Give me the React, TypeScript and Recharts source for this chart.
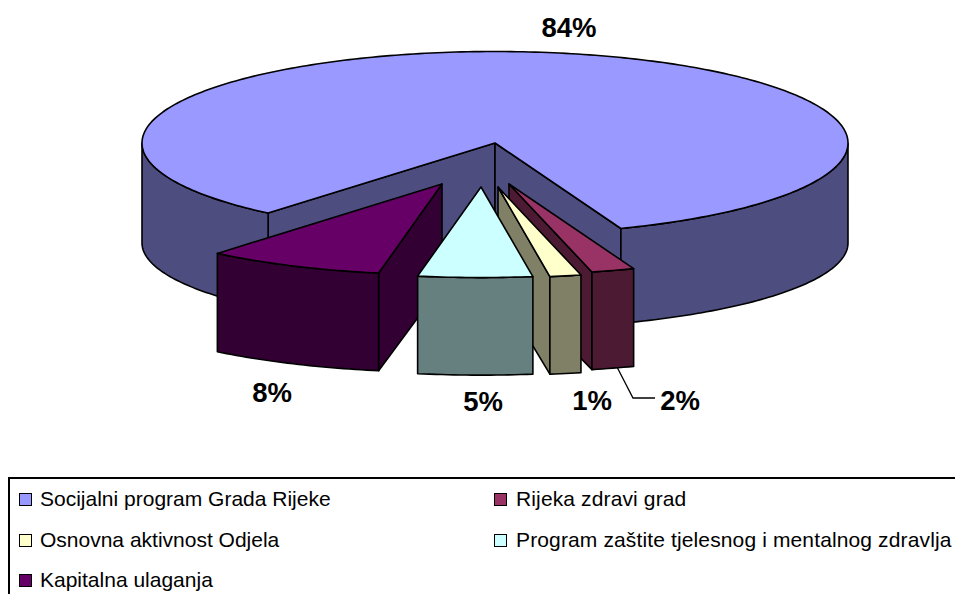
import React from "react";
import { PieChart, Pie, Legend } from "recharts";

const sliceNames = [
  "Socijalni program Grada Rijeke",
  "Rijeka zdravi grad",
  "Osnovna aktivnost Odjela",
  "Program zaštite tjelesnog i mentalnog zdravlja",
  "Kapitalna ulaganja",
];
// Shares
const sliceValues = [83.5, 2.0, 1.45, 5.3, 8.25];
const percentLabels = ["84%", "2%", "1%", "5%", "8%"];

const topColors = ["#9999FF", "#993366", "#FFFFCC", "#CCFFFF", "#660066"];
const sideColors = ["#4D4D80", "#4D1A33", "#808066", "#668080", "#330033"];

// Presentation constants
const WIDTH = 955;
const HEIGHT = 594;
const CX = 495;
const CY = 143;
const RX = 353;
const RY_TOP = 91.5;
const RY_BOTTOM = 86;
const RY_BOTTOM_EXPLODED = 88;
const DEPTH = 100;
const DEPTH_EXPLODED = 101;
const EXPLODED_SCALE = 0.99;
const FONT = "'Liberation Sans', Arial, sans-serif";
const explodeOffsets = [[0, 0], [14, 41], [3, 44], [-14, 44], [-53, 41]];
const labelAnchors = [[569, 27], [680, 400], [592, 400], [483, 401], [272, 392]];
const rows = [[0, 1], [2, 3], [4]];

const tableData = sliceNames.map((name, i) => ({ name, value: sliceValues[i] }));

const rad = (d: number) => (d * Math.PI) / 180;
const toPath = (pts: number[][]) =>
  "M" + pts.map((p) => `${p[0].toFixed(2)},${p[1].toFixed(2)}`).join("L") + "Z";

function Wedge3D(props: any) {
  const i = sliceNames.indexOf(props.name);
  const [ox, oy] = explodeOffsets[i];
  const k0 = i === 0 ? 1 : EXPLODED_SCALE;
  const depth = i === 0 ? DEPTH : DEPTH_EXPLODED;
  const ryB = i === 0 ? RY_BOTTOM : RY_BOTTOM_EXPLODED;
  const cx = props.cx + ox;
  const cy = props.cy + oy;
  const R = props.outerRadius * k0;
  const s = props.startAngle;
  const e = props.endAngle;
  const top = (a: number) => [cx + R * Math.cos(rad(a)), cy - RY_TOP * k0 * Math.sin(rad(a))];
  const bot = (a: number) => [cx + R * Math.cos(rad(a)), cy + depth - ryB * k0 * Math.sin(rad(a))];
  const n = Math.max(2, Math.ceil(Math.abs(e - s)));
  const angles: number[] = [];
  for (let k = 0; k <= n; k++) angles.push(s + ((e - s) * k) / n);

  const runs: number[][] = [];
  let cur: number[] = [];
  angles.forEach((a) => {
    if (Math.sin(rad(a)) <= 1e-6) cur.push(a);
    else {
      if (cur.length > 1) runs.push(cur);
      cur = [];
    }
  });
  if (cur.length > 1) runs.push(cur);

  const apexT = [cx, cy];
  const apexB = [cx, cy + depth];
  const faces = { fill: sideColors[i], stroke: "#000", strokeWidth: 1.6, strokeLinejoin: "round" as const };
  const sign = e < s ? 1 : -1;
  const startVisible = sign * Math.cos(rad(s)) < 0;
  const endVisible = sign * Math.cos(rad(e)) > 0;

  return (
    <g>
      {startVisible && <path d={toPath([apexT, top(s), bot(s), apexB])} {...faces} />}
      {endVisible && <path d={toPath([apexT, top(e), bot(e), apexB])} {...faces} />}
      {runs.map((r, k) => (
        <path key={k} d={toPath([...r.map(top), ...r.slice().reverse().map(bot)])} {...faces} />
      ))}
      <path
        d={toPath([apexT, ...angles.map(top)])}
        fill={topColors[i]}
        stroke="#000"
        strokeWidth={1.6}
        strokeLinejoin="round"
      />
    </g>
  );
}

const CUT_INDEX = sliceNames.indexOf("Program zaštite tjelesnog i mentalnog zdravlja");
const backShape = (p: any) => (sliceNames.indexOf(p.name) === CUT_INDEX ? <g /> : <Wedge3D {...p} />);
const frontShape = (p: any) => (sliceNames.indexOf(p.name) === CUT_INDEX ? <Wedge3D {...p} /> : <g />);

function renderLabel(p: any) {
  const i = sliceNames.indexOf(p.name);
  const [x, y] = labelAnchors[i];
  return (
    <g key={i}>
      {i === 1 && <polyline points="617,367 633,398 655,398" fill="none" stroke="#000" strokeWidth={1.3} />}
      <text x={x} y={y + 10} textAnchor="middle" fontFamily={FONT} fontWeight="bold" fontSize={27.5} fill="#000">
        {percentLabels[i]}
      </text>
    </g>
  );
}

function LegendBox() {
  return (
    <div
      style={{
        position: "absolute",
        left: 8,
        top: 477,
        width: 960,
        height: 130,
        border: "2px solid #000",
        boxSizing: "border-box",
        background: "#fff",
        fontFamily: FONT,
        fontSize: 21,
        color: "#000",
      }}
    >
      {rows.map((row, r) =>
        row.map((idx, c) => (
          <div key={idx} style={{ position: "absolute", left: c === 0 ? 9 : 484, top: 8 + r * 40.5, whiteSpace: "nowrap", lineHeight: "24px" }}>
            <span
              style={{
                display: "inline-block",
                width: 11,
                height: 11,
                border: "1.5px solid #000",
                background: topColors[idx],
                marginRight: c === 0 ? 8 : 9,
                verticalAlign: "0px",
              }}
            />
            <span style={{ letterSpacing: c === 0 ? 0 : 0.13 }}>{sliceNames[idx]}</span>
          </div>
        ))
      )}
    </div>
  );
}

export default function App() {
  return (
    <div style={{ position: "absolute", left: 0, top: 0, width: WIDTH, height: HEIGHT, overflow: "hidden" }}>
      <PieChart width={WIDTH} height={HEIGHT} margin={{ top: 0, right: 0, bottom: 0, left: 0 }}>
        <Pie
          data={tableData}
          dataKey="value"
          nameKey="name"
          cx={CX}
          cy={CY}
          innerRadius={0}
          outerRadius={RX}
          startAngle={-130}
          endAngle={-490}
          paddingAngle={0}
          isAnimationActive={false}
          stroke="none"
          shape={backShape}
          activeShape={backShape}
          inactiveShape={backShape}
          rootTabIndex={-1}
        />
        <Pie
          data={tableData}
          dataKey="value"
          nameKey="name"
          cx={CX}
          cy={CY}
          innerRadius={0}
          outerRadius={RX}
          startAngle={-130}
          endAngle={-490}
          paddingAngle={0}
          isAnimationActive={false}
          stroke="none"
          shape={frontShape}
          activeShape={frontShape}
          inactiveShape={frontShape}
          label={renderLabel}
          labelLine={false}
          legendType="none"
          rootTabIndex={-1}
        />
        <Legend content={() => <LegendBox />} wrapperStyle={{ position: "absolute", left: 0, top: 0, width: 0, height: 0 }} />
      </PieChart>
    </div>
  );
}
